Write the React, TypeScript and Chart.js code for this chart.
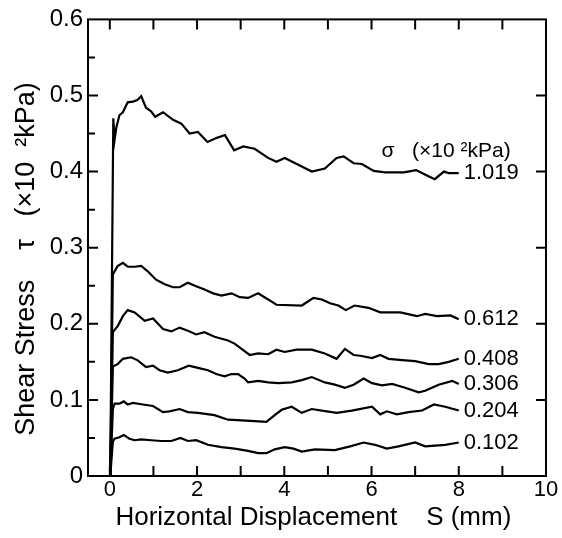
import { useEffect, useRef } from "react";
import { Chart, registerables } from "chart.js";

Chart.register(...registerables);

// ---- data ----
const normalStressLabels = ["1.019", "0.612", "0.408", "0.306", "0.204", "0.102"];

const disp1019 = [0.01, 0.08, 0.11, 0.15, 0.22, 0.30, 0.41, 0.53, 0.63, 0.72, 0.83, 0.95, 1.04, 1.22, 1.45, 1.64, 1.83, 2.02, 2.24, 2.44, 2.64, 2.85, 3.06, 3.32, 3.63, 3.82, 4.01, 4.32, 4.63, 4.93, 5.20, 5.36, 5.59, 5.78, 6.05, 6.31, 6.74, 7.02, 7.27, 7.45, 7.66, 7.77, 8.0];
const tau1019 = [0, 0.470, 0.442, 0.458, 0.474, 0.478, 0.491, 0.492, 0.494, 0.499, 0.484, 0.479, 0.472, 0.478, 0.468, 0.463, 0.450, 0.452, 0.439, 0.444, 0.448, 0.428, 0.433, 0.430, 0.418, 0.413, 0.418, 0.409, 0.400, 0.404, 0.418, 0.420, 0.411, 0.410, 0.401, 0.399, 0.399, 0.402, 0.395, 0.390, 0.400, 0.398, 0.398];

const disp0612 = [0.01, 0.07, 0.18, 0.30, 0.41, 0.57, 0.72, 0.87, 1.06, 1.26, 1.45, 1.60, 1.79, 1.95, 2.17, 2.37, 2.56, 2.79, 2.98, 3.17, 3.40, 3.63, 3.82, 4.40, 4.67, 4.86, 5.05, 5.24, 5.41, 5.61, 5.93, 6.20, 6.66, 7.04, 7.23, 7.50, 7.81, 8.0];
const tau0612 = [0, 0.265, 0.276, 0.280, 0.275, 0.275, 0.276, 0.269, 0.258, 0.252, 0.248, 0.248, 0.254, 0.250, 0.245, 0.240, 0.237, 0.240, 0.235, 0.234, 0.240, 0.232, 0.225, 0.224, 0.234, 0.232, 0.227, 0.224, 0.218, 0.224, 0.221, 0.215, 0.215, 0.210, 0.213, 0.210, 0.211, 0.206];

const disp0408 = [0.01, 0.07, 0.18, 0.30, 0.41, 0.57, 0.80, 0.99, 1.22, 1.41, 1.60, 1.79, 1.98, 2.17, 2.40, 2.71, 2.86, 3.02, 3.21, 3.40, 3.63, 3.82, 4.01, 4.28, 4.63, 4.93, 5.20, 5.39, 5.59, 5.74, 6.01, 6.20, 6.39, 6.77, 7.00, 7.31, 7.54, 7.77, 8.0];
const tau0408 = [0, 0.189, 0.197, 0.210, 0.218, 0.215, 0.204, 0.207, 0.193, 0.190, 0.195, 0.191, 0.186, 0.189, 0.183, 0.178, 0.174, 0.167, 0.159, 0.161, 0.160, 0.166, 0.163, 0.166, 0.166, 0.161, 0.154, 0.167, 0.159, 0.158, 0.155, 0.159, 0.154, 0.152, 0.151, 0.147, 0.147, 0.150, 0.154];

const disp0306 = [0.01, 0.07, 0.18, 0.30, 0.49, 0.64, 0.83, 0.99, 1.14, 1.33, 1.56, 1.81, 2.02, 2.25, 2.44, 2.63, 2.79, 2.94, 3.09, 3.17, 3.40, 3.63, 3.86, 4.17, 4.40, 4.63, 4.93, 5.16, 5.39, 5.59, 5.82, 6.01, 6.24, 6.47, 6.77, 7.08, 7.23, 7.54, 7.85, 8.0];
const tau0306 = [0, 0.144, 0.147, 0.154, 0.156, 0.152, 0.143, 0.145, 0.139, 0.136, 0.139, 0.145, 0.142, 0.139, 0.134, 0.131, 0.134, 0.134, 0.128, 0.123, 0.125, 0.123, 0.122, 0.123, 0.126, 0.130, 0.123, 0.120, 0.116, 0.120, 0.128, 0.122, 0.119, 0.121, 0.116, 0.110, 0.112, 0.120, 0.125, 0.121];

const disp0204 = [0.01, 0.07, 0.11, 0.22, 0.32, 0.41, 0.53, 0.76, 0.99, 1.22, 1.37, 1.60, 1.79, 2.02, 2.40, 2.71, 3.02, 3.32, 3.59, 3.78, 3.94, 4.17, 4.40, 4.63, 4.86, 5.20, 5.55, 6.01, 6.20, 6.35, 6.58, 6.85, 7.16, 7.43, 7.69, 8.0];
const tau0204 = [0, 0.088, 0.095, 0.095, 0.098, 0.094, 0.096, 0.094, 0.092, 0.084, 0.085, 0.088, 0.084, 0.083, 0.080, 0.074, 0.073, 0.072, 0.071, 0.080, 0.087, 0.091, 0.083, 0.088, 0.086, 0.083, 0.086, 0.091, 0.081, 0.085, 0.081, 0.084, 0.086, 0.094, 0.091, 0.086];

const disp0102 = [0.01, 0.07, 0.11, 0.22, 0.32, 0.45, 0.57, 0.72, 0.95, 1.18, 1.41, 1.62, 1.79, 1.98, 2.25, 2.56, 2.86, 3.17, 3.40, 3.59, 3.78, 4.01, 4.21, 4.40, 4.70, 5.16, 5.51, 5.82, 6.08, 6.35, 6.62, 7.00, 7.23, 7.69, 8.0];
const tau0102 = [0, 0.045, 0.049, 0.051, 0.054, 0.049, 0.047, 0.048, 0.047, 0.046, 0.046, 0.050, 0.046, 0.047, 0.041, 0.038, 0.036, 0.033, 0.030, 0.030, 0.035, 0.038, 0.036, 0.032, 0.035, 0.034, 0.039, 0.044, 0.041, 0.036, 0.039, 0.044, 0.039, 0.041, 0.044];

const seriesDisp = [disp1019, disp0612, disp0408, disp0306, disp0204, disp0102];
const seriesTau = [tau1019, tau0612, tau0408, tau0306, tau0204, tau0102];

const xTickValues = [0, 2, 4, 6, 8, 10];
const xTickLabels = ["0", "2", "4", "6", "8", "10"];
const yTickValues = [0, 0.1, 0.2, 0.3, 0.4, 0.5, 0.6];
const yTickLabels = ["0", "0.1", "0.2", "0.3", "0.4", "0.5", "0.6"];
const xMinorTicks = [0, 1, 2, 3, 4, 5, 6, 7, 8, 9];
const yMinorTicks = [0.05, 0.1, 0.15, 0.2, 0.25, 0.3, 0.35, 0.4, 0.45, 0.5, 0.55];
const yRightTicks = [0.1, 0.2, 0.3, 0.4, 0.5];

const xTitle = "Horizontal Displacement    S (mm) ";
const yTitle = "Shear Stress    τ   (×10  ²kPa)   ";
const legendTitle = "σ   (×10 ²kPa)";
const legendAt = [6.23, 0.427];

const FONT = '"Liberation Sans", Arial, Helvetica, sans-serif';

const framePlugin = {
  id: "frame",
  afterDraw(chart: any) {
    const { ctx, chartArea: a } = chart;
    const x = chart.scales.x;
    const y = chart.scales.y;
    ctx.save();
    ctx.strokeStyle = "#000";
    ctx.lineWidth = 2;
    ctx.strokeRect(a.left, a.top, a.right - a.left, a.bottom - a.top);
    ctx.beginPath();
    xMinorTicks.forEach((v) => {
      const px = x.getPixelForValue(v);
      ctx.moveTo(px, a.bottom);
      ctx.lineTo(px, a.bottom - 10);
      ctx.moveTo(px, a.top);
      ctx.lineTo(px, a.top + 10);
    });
    yMinorTicks.forEach((v, i) => {
      const py = y.getPixelForValue(v);
      const len = i % 2 === 1 ? 10 : 7;
      ctx.moveTo(a.left, py);
      ctx.lineTo(a.left + len, py);
    });
    yRightTicks.forEach((v) => {
      const py = y.getPixelForValue(v);
      ctx.moveTo(a.right, py);
      ctx.lineTo(a.right - 10, py);
    });
    ctx.stroke();

    ctx.fillStyle = "#000";
    ctx.textBaseline = "middle";
    ctx.textAlign = "left";
    ctx.font = `22px ${FONT}`;
    chart.data.datasets.forEach((ds: any, i: number) => {
      const last = ds.data[ds.data.length - 1];
      ctx.fillText(normalStressLabels[i], x.getPixelForValue(last.x) + 5, y.getPixelForValue(last.y));
    });
    ctx.font = `21px ${FONT}`;
    ctx.fillText(legendTitle, x.getPixelForValue(legendAt[0]), y.getPixelForValue(legendAt[1]));
    ctx.restore();
  },
};

export default function App() {
  const ref = useRef<HTMLCanvasElement | null>(null);
  useEffect(() => {
    if (!ref.current) return;
    const datasets = seriesDisp.map((xs, i) => ({
      label: normalStressLabels[i],
      data: xs.map((xv, j) => ({ x: xv, y: seriesTau[i][j] })),
      borderColor: "#000",
      backgroundColor: "#000",
      borderWidth: 2.2,
      pointRadius: 0,
      fill: false,
      tension: 0,
    }));
    const chart = new Chart(ref.current, {
      type: "line",
      data: { datasets },
      options: {
        responsive: false,
        animation: false,
        layout: { padding: { top: 19, right: 16, left: 0, bottom: 0 } },
        plugins: { legend: { display: false }, tooltip: { enabled: false } },
        scales: {
          x: {
            type: "linear",
            min: -0.5,
            max: 10,
            afterBuildTicks: (s: any) => {
              s.ticks = xTickValues.map((v) => ({ value: v }));
            },
            afterFit: (s: any) => {
              s.height = 62;
            },
            grid: { display: false, drawTicks: false },
            border: { display: false },
            ticks: {
              padding: 1,
              color: "#000",
              font: { family: FONT, size: 22 },
              maxRotation: 0,
              autoSkip: false,
              callback: (_v: any, i: number) => xTickLabels[i],
            },
            title: {
              display: true,
              text: xTitle,
              color: "#000",
              font: { family: FONT, size: 26 },
              padding: { top: 0, bottom: 5 },
            },
          },
          y: {
            type: "linear",
            min: 0,
            max: 0.6,
            afterBuildTicks: (s: any) => {
              s.ticks = yTickValues.map((v) => ({ value: v }));
            },
            afterFit: (s: any) => {
              s.width = 88;
            },
            grid: { display: false, drawTicks: false },
            border: { display: false },
            ticks: {
              padding: 5,
              color: "#000",
              font: { family: FONT, size: 24 },
              autoSkip: false,
              callback: (_v: any, i: number) => yTickLabels[i],
            },
            title: {
              display: true,
              text: yTitle,
              color: "#000",
              font: { family: FONT, size: 27 },
              padding: { top: 10, bottom: 0 },
            },
          },
        },
      },
      plugins: [framePlugin],
    });
    return () => chart.destroy();
  }, []);
  return (
    <div style={{ position: "absolute", left: 0, top: 0, width: 562, height: 538, background: "#fff" }}>
      <canvas ref={ref} width={562} height={538} style={{ display: "block", width: 562, height: 538 }} />
    </div>
  );
}
